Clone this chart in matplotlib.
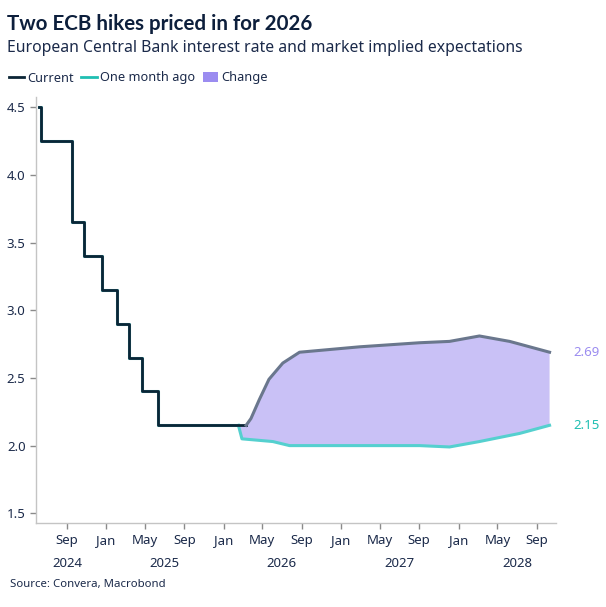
import matplotlib
matplotlib.use('Agg')
import matplotlib.pyplot as plt
import matplotlib.dates as mdates
from matplotlib.lines import Line2D
from matplotlib.patches import Patch
import numpy as np
import pandas as pd

plt.rcParams['font.family'] = ['Noto Sans', 'DejaVu Sans']

# ECB main refinancing rate, effective dates of each change
policy_dates = pd.to_datetime(['2024-06-05', '2024-06-12', '2024-09-18', '2024-10-23', '2024-12-18',
                               '2025-02-05', '2025-03-12', '2025-04-23', '2025-06-11'])
policy_rates = [4.50, 4.25, 3.65, 3.40, 3.15, 2.90, 2.65, 2.40, 2.15]

# market implied path today
current_dates = pd.to_datetime(['2026-03-12', '2026-03-27', '2026-04-22', '2026-05-22', '2026-07-04',
                                '2026-08-25', '2027-02-28', '2027-09-02', '2027-12-04', '2028-03-06',
                                '2028-06-08', '2028-09-09', '2028-10-10'])
current_vals = [2.15, 2.20, 2.34, 2.49, 2.61, 2.69, 2.73, 2.76, 2.77, 2.81, 2.77, 2.71, 2.69]

# market implied path one month ago
month_ago_dates = pd.to_datetime(['2026-02-16', '2026-02-27', '2026-06-03', '2026-07-25', '2027-02-28',
                                  '2027-09-02', '2027-12-04', '2028-03-06', '2028-07-09', '2028-10-10'])
month_ago_vals = [2.15, 2.05, 2.03, 2.00, 2.00, 2.00, 1.99, 2.03, 2.09, 2.15]

years = ['2024', '2025', '2026', '2027', '2028']
year_pos = pd.to_datetime(['2024-09-01', '2025-07-01', '2026-07-01', '2027-07-01', '2028-07-01'])

navy = '#0b2536'
slate = '#6a778d'
cyan = '#55d0cf'
teal = '#1fbfb2'
purple = '#9b8cf0'
fill_col = '#c9c1f6'
txt = '#1b2a4a'

fig = plt.figure(figsize=(6.06, 6.07), dpi=100)
ax = fig.add_axes([0.0594, 0.1379, 0.9175 - 0.0594, 0.8407 - 0.1379])

# shaded change between the two paths
poly_x = np.concatenate([[mdates.date2num(month_ago_dates[0])], mdates.date2num(current_dates),
                         mdates.date2num(month_ago_dates[::-1])])
poly_y = np.concatenate([[month_ago_vals[0]], current_vals, month_ago_vals[::-1]])
ax.fill(poly_x, poly_y, color=fill_col, lw=0, zorder=1)

# history as steps, extended up to where each path branches off
hist_ma_x = list(policy_dates) + [month_ago_dates[0]]
hist_ma_y = policy_rates + [policy_rates[-1]]
ax.step(hist_ma_x, hist_ma_y, where='post', color=cyan, lw=2.2, zorder=2)
ax.plot(month_ago_dates, month_ago_vals, color=cyan, lw=2.2, zorder=2)

hist_cu_x = list(policy_dates) + [current_dates[0]]
hist_cu_y = policy_rates + [policy_rates[-1]]
ax.step(hist_cu_x, hist_cu_y, where='post', color=navy, lw=2, zorder=3)
ax.plot(current_dates, current_vals, color=slate, lw=2.2, zorder=3)

# end labels
ax.annotate(f'{current_vals[-1]:.2f}', xy=(current_dates[-1], current_vals[-1]), xytext=(17, 0),
            textcoords='offset points', ha='left', va='center', color=purple, fontsize=9.5, annotation_clip=False)
ax.annotate(f'{month_ago_vals[-1]:.2f}', xy=(month_ago_dates[-1], month_ago_vals[-1]), xytext=(17, 0),
            textcoords='offset points', ha='left', va='center', color=teal, fontsize=9.5, annotation_clip=False)

ax.set_xlim(pd.Timestamp('2024-05-28'), pd.Timestamp('2028-10-30'))
ax.set_ylim(1.426, 4.578)
ax.set_yticks([1.5, 2.0, 2.5, 3.0, 3.5, 4.0, 4.5])
ax.set_yticklabels(['1.5', '2.0', '2.5', '3.0', '3.5', '4.0', '4.5'])

ax.xaxis.set_major_locator(mdates.MonthLocator(bymonth=[1, 5, 9]))
ax.xaxis.set_major_formatter(mdates.DateFormatter('%b'))

for s in ['top', 'right']:
    ax.spines[s].set_visible(False)
for s in ['left', 'bottom']:
    ax.spines[s].set_color('#c4c4c4')
    ax.spines[s].set_linewidth(1)
ax.tick_params(axis='both', colors='#8a8a8a', labelcolor=txt, labelsize=9.5, length=4, width=1)
ax.tick_params(axis='x', pad=4)

trans = ax.get_xaxis_transform()
for yr, pos in zip(years, year_pos):
    ax.text(pos, -0.095, yr, transform=trans, ha='center', va='center', fontsize=9.5, color=txt)

fig.text(0.012, 1 - 30 / 607, 'Two ECB hikes priced in for 2026', fontsize=14.8, fontweight='bold',
         family='Lato', color='#0d1f3c', va='baseline', ha='left')
fig.text(0.012, 1 - 52.5 / 607, 'European Central Bank interest rate and market implied expectations',
         fontsize=11.35, color=txt, va='baseline', ha='left')
fig.text(0.016, 1 - 585 / 607, 'Source: Convera, Macrobond', fontsize=8.2, color=txt, va='center', ha='left')

handles = [Line2D([], [], color=navy, lw=2), Line2D([], [], color=teal, lw=2),
           Patch(facecolor=purple, edgecolor='none')]
fig.legend(handles, ['Current', 'One month ago', 'Change'], loc='center left',
           bbox_to_anchor=(0.01, 1 - 78 / 607), ncol=3, frameon=False, fontsize=9.2, handlelength=1.2,
           handletextpad=0.25, columnspacing=0.6, labelcolor=txt, borderaxespad=0, borderpad=0.2,
           handleheight=0.8)

fig.savefig('out.png', dpi=100)
